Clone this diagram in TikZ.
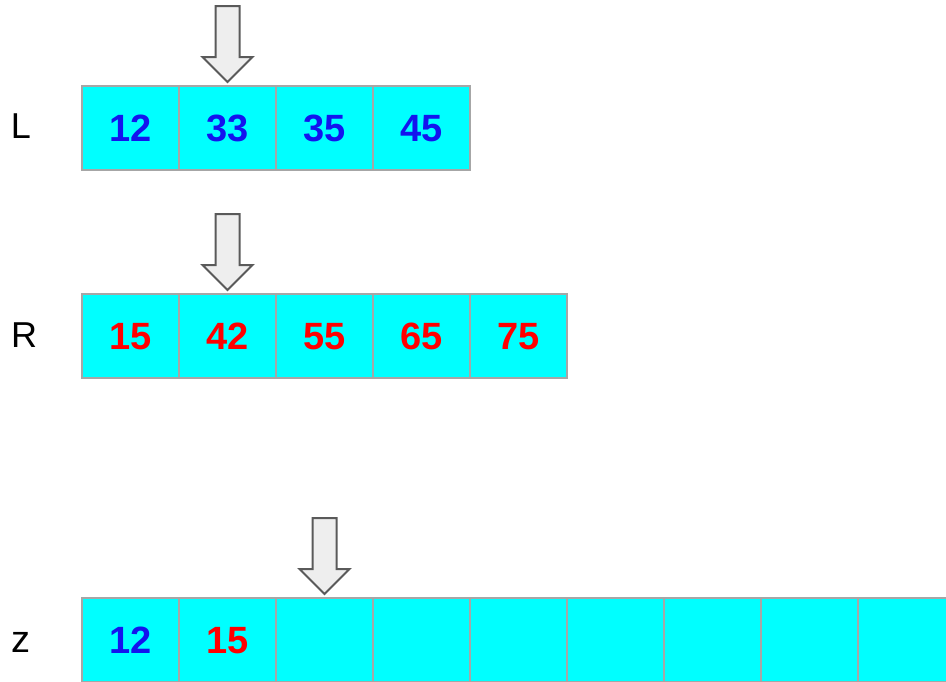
\documentclass[tikz,border=0pt]{standalone}
\usepackage{fontspec}
\setmainfont{Liberation Sans}
\definecolor{cellcyan}{HTML}{00FFFF}
\definecolor{cellgray}{HTML}{A6A6A6}
\definecolor{numblue}{HTML}{1414EE}
\definecolor{numred}{HTML}{FF0000}
\definecolor{ptrfill}{HTML}{EEEEEE}
\definecolor{ptrline}{HTML}{5A5A5A}
\begin{document}
\begin{tikzpicture}[x=1pt,y=-1pt,
  numfont/.style={font=\fontsize{38}{42}\selectfont\bfseries,
    text height=27pt, text depth=0pt},
  cell/.style={draw=cellgray, line width=2pt, fill=cellcyan,
    minimum width=97pt, minimum height=84pt, inner sep=0pt, outer sep=0pt,
    numfont},
  bluenum/.style={text=numblue},
  rednum/.style={text=numred},
  rowlabel/.style={font=\fontsize{36}{40}\selectfont, inner sep=0pt},
  pointer/.pic={
    \draw[ptrline, fill=ptrfill, line width=2pt, line join=miter]
      (-12,-80) -- (12,-80) -- (12,-29) -- (25,-29) -- (0,-4)
      -- (-25,-29) -- (-12,-29) -- cycle;
  }]
  \clip (0,0) rectangle (946,681);

  % row L
  \node[rowlabel] (labL) at (21,126) {L};
  \foreach \v [count=\i from 0] in {12,33,35,45}
    \node[cell, bluenum] (L\i) at (130.5+97*\i,128) {\v};

  % row R
  \node[rowlabel] (labR) at (24,335) {R};
  \foreach \v [count=\i from 0] in {15,42,55,65,75}
    \node[cell, rednum] (R\i) at (130.5+97*\i,336) {\v};

  % row z
  \node[rowlabel, font=\fontsize{38}{42}\selectfont] (labZ) at (20.5,642) {z};
  \foreach \i in {0,...,8}
    \node[cell] (Z\i) at (130.5+97*\i,640) {};
  \node[bluenum, numfont, inner sep=0pt] (z0val) at (Z0) {12};
  \node[rednum, numfont, inner sep=0pt] (z1val) at (Z1) {15};

  % position pointers
  \pic at (L1.north) {pointer};
  \pic at (R1.north) {pointer};
  \pic at (Z2.north) {pointer};
\end{tikzpicture}
\end{document}
